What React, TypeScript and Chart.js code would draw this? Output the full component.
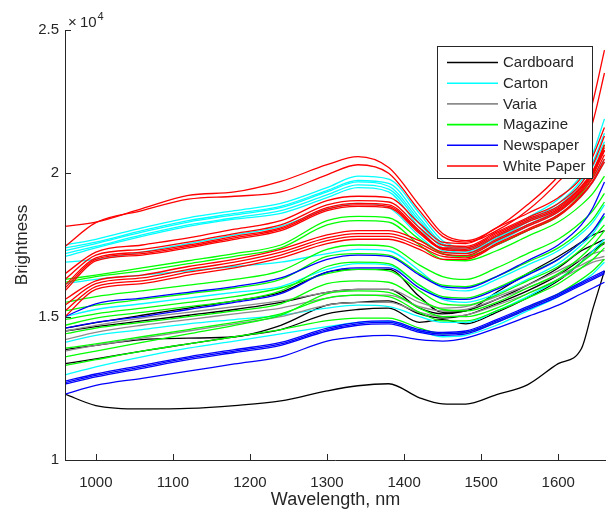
import React, { useEffect, useRef } from "react";
import { Chart, registerables } from "chart.js";

Chart.register(...registerables);

// Wavelength samples (nm)
const WAVELENGTHS = [960, 1000, 1060, 1120, 1180, 1240, 1300, 1340, 1380, 1420, 1450, 1480, 1520, 1560, 1600, 1630, 1645, 1660];

const CATEGORIES = ["Cardboard", "Carton", "Varia", "Magazine", "Newspaper", "White Paper"];
const CATEGORY_COLORS = ["#000000", "#00ffff", "#8c8c8c", "#00ff00", "#0000ff", "#ff0000"];

// Brightness spectra, one array per sample
const CARDBOARD = [
  [12300, 11900, 11780, 11800, 11900, 12060, 12410, 12590, 12660, 12170, 11960, 11950, 12280, 12620, 13360, 13880, 15280, 16600],
  [13850, 14000, 14200, 14250, 14300, 14700, 15400, 15500, 15550, 15100, 14950, 15050, 15450, 15900, 16450, 17000, 17300, 17550],
  [14600, 14790, 15050, 15300, 15550, 15850, 16550, 16650, 16650, 15700, 15150, 15200, 15850, 16500, 17100, 17600, 17850, 18000],
  [13360, 13530, 13800, 14050, 14300, 14550, 15100, 15250, 15300, 14800, 14900, 14750, 15150, 15650, 16250, 16900, 17300, 17600],
  [14500, 14650, 14850, 15050, 15250, 15500, 15850, 15950, 15950, 15300, 15100, 15200, 15600, 16100, 16700, 17300, 17500, 17700],
];

const CARTON = [
  [17500, 17700, 18100, 18450, 18700, 18950, 19500, 19900, 19800, 18600, 17650, 17400, 17800, 18450, 19100, 19950, 20700, 21900],
  [17400, 17600, 18000, 18350, 18600, 18850, 19400, 19750, 19650, 18450, 17550, 17350, 17750, 18350, 18950, 19750, 20400, 21400],
  [17300, 17550, 17950, 18300, 18550, 18800, 19350, 19700, 19550, 18350, 17500, 17300, 17700, 18300, 18850, 19650, 20250, 21100],
  [17200, 17450, 17850, 18200, 18450, 18700, 19250, 19600, 19450, 18250, 17400, 17250, 17650, 18200, 18750, 19500, 20050, 20800],
  [17100, 17400, 17800, 18150, 18400, 18600, 19150, 19500, 19350, 18100, 17300, 17200, 17600, 18150, 18650, 19350, 19850, 20500],
  [16900, 17000, 17250, 17550, 17850, 18150, 18750, 18950, 18800, 17800, 17200, 17100, 17500, 18000, 18550, 19200, 19700, 20400],
  [16150, 16300, 16450, 16600, 16750, 16900, 17200, 17350, 17300, 16600, 16000, 15900, 16300, 16800, 17300, 17900, 18300, 18900],
  [15000, 15250, 15450, 15650, 15850, 16050, 16650, 16850, 16800, 16100, 15600, 15500, 15800, 16300, 16850, 17500, 17900, 18500],
  [14100, 14350, 14550, 14750, 14900, 15050, 15300, 15400, 15350, 15000, 14800, 14800, 15200, 15700, 16300, 16900, 17300, 17700],
  [12970, 13250, 13600, 13900, 14150, 14400, 14650, 14800, 14830, 14500, 14300, 14350, 14700, 15200, 15700, 16200, 16500, 16900],
];

const VARIA = [
  [14500, 14700, 14950, 15150, 15350, 15550, 15850, 15950, 15950, 15500, 15300, 15350, 15700, 16100, 16600, 17000, 17200, 17300],
  [14200, 14450, 14700, 14900, 15100, 15300, 15650, 15750, 15750, 15350, 15200, 15250, 15600, 16000, 16450, 16800, 17000, 17100],
  [13800, 14000, 14250, 14500, 14750, 15000, 15400, 15500, 15500, 15150, 15000, 15050, 15400, 15800, 16300, 16700, 16900, 17000],
];

const MAGAZINE = [
  [16300, 16450, 16700, 16950, 17200, 17500, 18350, 18500, 18450, 17700, 17200, 17100, 17500, 18000, 18500, 19300, 19900, 21000],
  [16200, 16400, 16600, 16850, 17100, 17400, 18200, 18350, 18300, 17500, 17000, 16950, 17300, 17800, 18300, 18900, 19300, 19900],
  [15500, 15700, 15900, 16100, 16300, 16600, 17350, 17500, 17450, 16800, 16400, 16300, 16700, 17200, 17700, 18300, 18700, 19300],
  [15200, 15400, 15600, 15800, 16000, 16300, 17100, 17200, 17150, 16500, 16100, 16050, 16400, 16900, 17400, 18000, 18400, 19000],
  [14700, 14950, 15150, 15350, 15550, 15900, 16750, 16900, 16850, 16100, 15700, 15650, 16000, 16500, 17000, 17600, 18000, 18500],
  [14400, 14600, 14800, 15000, 15200, 15450, 16150, 16250, 16200, 15600, 15250, 15200, 15500, 16000, 16500, 17100, 17500, 18000],
  [13600, 13800, 14100, 14400, 14700, 15050, 15800, 15900, 15850, 15300, 15000, 15000, 15300, 15800, 16300, 16900, 17200, 17600],
  [13900, 14050, 14300, 14550, 14800, 15100, 15650, 15750, 15700, 15150, 14850, 14850, 15200, 15650, 16150, 16700, 17000, 17400],
  [13300, 13500, 13800, 14050, 14300, 14550, 14860, 14950, 14950, 14600, 14400, 14450, 14800, 15300, 15800, 16300, 16600, 17000],
  [14900, 15100, 15300, 15500, 15700, 16000, 16500, 16650, 16600, 15900, 15450, 15400, 15750, 16250, 16750, 17350, 17750, 18200],
];

const NEWSPAPER = [
  [15000, 15450, 15650, 15850, 16050, 16350, 17000, 17150, 17100, 16450, 16050, 16000, 16400, 16950, 17500, 18200, 18800, 19700],
  [14600, 14800, 15000, 15250, 15500, 15800, 16550, 16700, 16700, 16000, 15650, 15600, 15950, 16450, 17000, 17600, 18000, 18600],
  [12750, 13000, 13300, 13600, 13850, 14100, 14600, 14800, 14850, 14550, 14450, 14500, 14900, 15350, 15800, 16200, 16400, 16600],
  [12650, 12900, 13200, 13500, 13750, 14000, 14500, 14700, 14750, 14450, 14350, 14400, 14800, 15250, 15700, 16100, 16300, 16500],
  [12700, 12950, 13250, 13550, 13800, 14050, 14550, 14750, 14800, 14500, 14400, 14450, 14850, 15300, 15750, 16150, 16350, 16550],
  [12300, 12600, 12850, 13100, 13350, 13600, 14150, 14300, 14350, 14200, 14150, 14250, 14600, 15000, 15400, 15800, 16000, 16200],
];

const WHITE_PAPER = [
  [18150, 18300, 18770, 19230, 19350, 19720, 20300, 20580, 20200, 18880, 17900, 17650, 18100, 18900, 19900, 21000, 22500, 24300],
  [17450, 18280, 18700, 19100, 19200, 19350, 19950, 20300, 20000, 18700, 17800, 17600, 18000, 18700, 19700, 20700, 21800, 23500],
  [16500, 17250, 17500, 17750, 18050, 18350, 19050, 19200, 19150, 18250, 17600, 17550, 18100, 18600, 19150, 19850, 20600, 21600],
  [16300, 17150, 17350, 17600, 17900, 18200, 18900, 19050, 19000, 18100, 17500, 17450, 17950, 18450, 18950, 19650, 20300, 21300],
  [16100, 17050, 17250, 17500, 17800, 18100, 18800, 18950, 18900, 18000, 17400, 17400, 17900, 18400, 18850, 19550, 20100, 21000],
  [15900, 16950, 17150, 17400, 17700, 18000, 18700, 18850, 18800, 17900, 17350, 17300, 17800, 18300, 18750, 19450, 20000, 20800],
  [16000, 17000, 17200, 17450, 17750, 18050, 18750, 18900, 18850, 17950, 17380, 17350, 17850, 18350, 18800, 19500, 20050, 20900],
  [15600, 16250, 16450, 16750, 17000, 17350, 17850, 18000, 18000, 17650, 17250, 17200, 17700, 18200, 18700, 19400, 19950, 20800],
  [15400, 16150, 16350, 16650, 16900, 17250, 17750, 17900, 17900, 17550, 17180, 17130, 17650, 18150, 18650, 19350, 19850, 20650],
  [15200, 16050, 16250, 16550, 16800, 17150, 17650, 17800, 17800, 17450, 17100, 17050, 17550, 18050, 18550, 19250, 19750, 20500],
  [15000, 15950, 16150, 16450, 16700, 17050, 17550, 17700, 17700, 17350, 17000, 17000, 17500, 18000, 18500, 19200, 19700, 20400],
];

const SERIES_BY_CATEGORY = [CARDBOARD, CARTON, VARIA, MAGAZINE, NEWSPAPER, WHITE_PAPER];

const X_TICKS = [1000, 1100, 1200, 1300, 1400, 1500, 1600];
const Y_TICKS = [10000, 15000, 20000, 25000];
const X_MIN = 960;
const X_MAX = 1662;
const Y_MIN = 10000;
const Y_MAX = 25000;

const X_TITLE = "Wavelength, nm";
const Y_TITLE = "Brightness";

const AXIS_COLOR = "#262626";
const FONT = "'Liberation Sans', Arial, Helvetica, sans-serif";

const overlay = {
  id: "matlabOverlay",
  afterDraw(chart: any) {
    const { ctx, chartArea: a, scales } = chart;
    const xs = scales.x;
    const ys = scales.y;
    ctx.save();
    // axes lines + inward ticks
    ctx.strokeStyle = AXIS_COLOR;
    ctx.lineWidth = 1;
    ctx.beginPath();
    ctx.moveTo(a.left + 0.5, a.top);
    ctx.lineTo(a.left + 0.5, a.bottom + 0.5);
    ctx.lineTo(a.right, a.bottom + 0.5);
    for (const t of ys.ticks) {
      const y = Math.round(ys.getPixelForValue(t.value)) + 0.5;
      ctx.moveTo(a.left, y);
      ctx.lineTo(a.left + 6, y);
    }
    for (const t of xs.ticks) {
      const x = Math.round(xs.getPixelForValue(t.value)) + 0.5;
      ctx.moveTo(x, a.bottom);
      ctx.lineTo(x, a.bottom - 6);
    }
    ctx.stroke();

    // axis titles
    ctx.fillStyle = AXIS_COLOR;
    ctx.textAlign = "center";
    ctx.textBaseline = "middle";
    ctx.font = `18px ${FONT}`;
    ctx.fillText(X_TITLE, (a.left + a.right) / 2, 500);
    ctx.font = `17px ${FONT}`;
    ctx.save();
    ctx.translate(22, (a.top + a.bottom) / 2);
    ctx.rotate(-Math.PI / 2);
    ctx.fillText(Y_TITLE, 0, 0);
    ctx.restore();

    // exponent label
    ctx.textAlign = "left";
    ctx.textBaseline = "alphabetic";
    ctx.font = `15px ${FONT}`;
    ctx.fillText("\u00d7", a.left + 3, 27);
    ctx.fillText("10", a.left + 15, 27);
    ctx.font = `11px ${FONT}`;
    ctx.fillText("4", a.left + 32.5, 20);

    // legend
    const bx = 437.5, by = 46.5, bw = 155, bh = 132;
    ctx.fillStyle = "#ffffff";
    ctx.fillRect(bx, by, bw, bh);
    ctx.strokeStyle = AXIS_COLOR;
    ctx.lineWidth = 1;
    ctx.strokeRect(bx, by, bw, bh);
    ctx.font = `15px ${FONT}`;
    ctx.textBaseline = "middle";
    CATEGORIES.forEach((name, i) => {
      const y = 62.5 + i * 20.7;
      ctx.strokeStyle = CATEGORY_COLORS[i];
      ctx.lineWidth = 1.6;
      ctx.beginPath();
      ctx.moveTo(447, y);
      ctx.lineTo(498, y);
      ctx.stroke();
      ctx.fillStyle = AXIS_COLOR;
      ctx.fillText(name, 503, y + 0.5);
    });
    ctx.restore();
  },
};

export default function App() {
  const ref = useRef<HTMLCanvasElement | null>(null);

  useEffect(() => {
    if (!ref.current) return;
    Chart.defaults.font.family = FONT;
    const datasets: any[] = [];
    for (let c = CATEGORIES.length - 1; c >= 0; c--) {
      SERIES_BY_CATEGORY[c].forEach((vals) => {
        datasets.push({
          label: CATEGORIES[c],
          data: vals.map((v, k) => ({ x: WAVELENGTHS[k], y: v })),
          borderColor: CATEGORY_COLORS[c],
          backgroundColor: CATEGORY_COLORS[c],
          borderWidth: 1.3,
          pointRadius: 0,
          cubicInterpolationMode: "monotone",
          fill: false,
        });
      });
    }
    const chart = new Chart(ref.current, {
      type: "line",
      data: { datasets },
      options: {
        animation: false,
        responsive: false,
        devicePixelRatio: 1,
        layout: { padding: { top: 30, right: 0, bottom: 0, left: 0 } },
        plugins: { legend: { display: false }, tooltip: { enabled: false } },
        scales: {
          x: {
            type: "linear",
            min: X_MIN,
            max: X_MAX,
            grid: { display: false, drawTicks: false },
            border: { display: false },
            afterFit: (s: any) => {
              s.height = 56;
            },
            afterBuildTicks: (s: any) => {
              s.ticks = X_TICKS.map((v) => ({ value: v }));
            },
            ticks: {
              padding: 14,
              color: AXIS_COLOR,
              font: { size: 15 },
              maxRotation: 0,
              autoSkip: false,
              callback: (v: any) => String(v),
            },
          },
          y: {
            type: "linear",
            min: Y_MIN,
            max: Y_MAX,
            grid: { display: false, drawTicks: false },
            border: { display: false },
            afterFit: (s: any) => {
              s.width = 65;
            },
            afterBuildTicks: (s: any) => {
              s.ticks = Y_TICKS.map((v) => ({ value: v }));
            },
            ticks: {
              padding: 6,
              color: AXIS_COLOR,
              font: { size: 15 },
              autoSkip: false,
              callback: (v: any) => String(Number(v) / 10000),
            },
          },
        },
      },
      plugins: [overlay],
    });
    return () => chart.destroy();
  }, []);

  return (
    <div style={{ position: "absolute", left: 0, top: 0, width: 606, height: 516, background: "#ffffff" }}>
      <canvas ref={ref} width={606} height={516} style={{ display: "block" }} />
    </div>
  );
}
